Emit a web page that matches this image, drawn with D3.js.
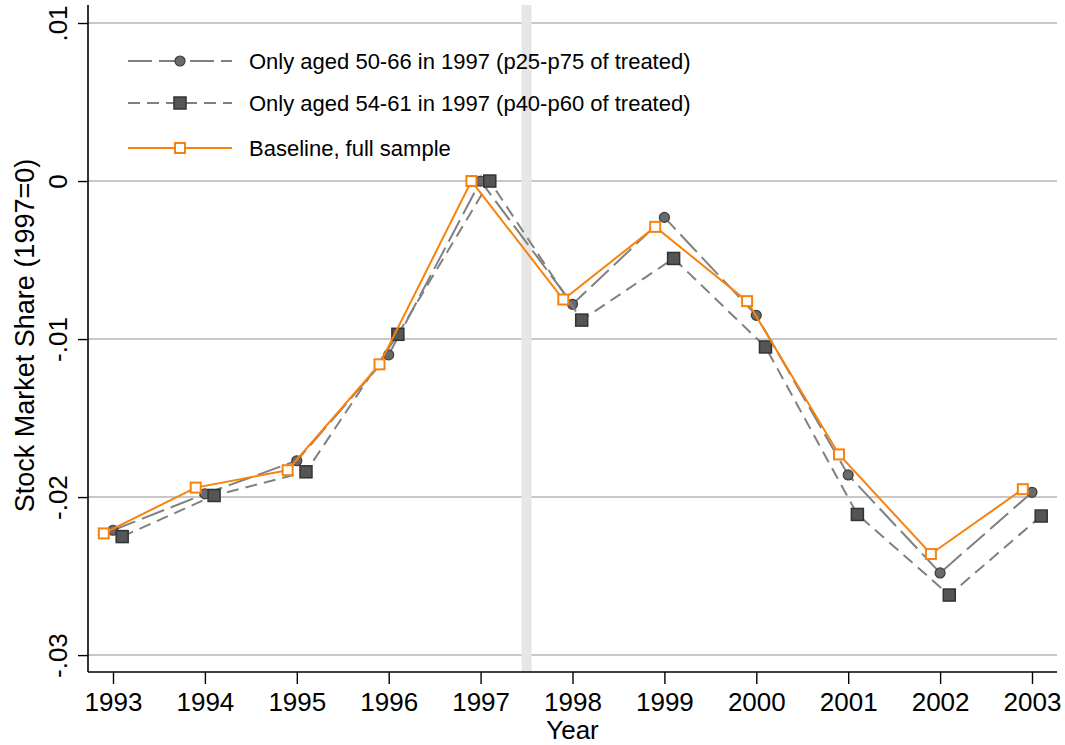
<!DOCTYPE html>
<html><head><meta charset="utf-8">
<script src="https://cdn.jsdelivr.net/npm/d3@7"></script>
<style>body{margin:0;background:#fff}svg{display:block;font-family:"Liberation Sans",Arial,sans-serif}</style>
</head><body><svg id="c" width="1065" height="745"></svg>
<script>
const years = [1993,1994,1995,1996,1997,1998,1999,2000,2001,2002,2003];
const aged5066 = [-0.0221,-0.0198,-0.0177,-0.0110,0,-0.0078,-0.0023,-0.0085,-0.0186,-0.0248,-0.0197];
const aged5461 = [-0.0225,-0.0199,-0.0184,-0.0097,0,-0.0088,-0.0049,-0.0105,-0.0211,-0.0262,-0.0212];
const baseline = [-0.0223,-0.0194,-0.0183,-0.0116,0,-0.0075,-0.0029,-0.0076,-0.0173,-0.0236,-0.0195];
const yTicks = [0.01,0,-0.01,-0.02,-0.03];
const yTickLabels = [".01","0","-.01","-.02","-.03"];
const legendLabels = ["Only aged 50-66 in 1997 (p25-p75 of treated)","Only aged 54-61 in 1997 (p40-p60 of treated)","Baseline, full sample"];
const xOffsets = [0, 0.1, -0.1];
const eventLine = 1997.5;

const svg = d3.select("#c");
const L=88,R=1057,T=5,B=672;
const x = d3.scaleLinear().domain([1992.728,2003.272]).range([L,R]);
const y = d3.scaleLinear().domain([-0.03107,0.01114]).range([B,T]);
const orange="#f7820e", gray="#808080";

// gridlines
svg.append("g").selectAll("line").data(yTicks).join("line")
  .attr("x1",L).attr("x2",R).attr("y1",d=>y(d)).attr("y2",d=>y(d))
  .attr("stroke","#c8c8c8").attr("stroke-width",2);
// event band
svg.append("line").attr("x1",x(eventLine)).attr("x2",x(eventLine)).attr("y1",T).attr("y2",B)
  .attr("stroke","#e6e6e6").attr("stroke-width",10);

// axes
const yAxis = d3.axisLeft(y).tickValues(yTicks).tickFormat((d,i)=>yTickLabels[i]).tickSize(10).tickSizeOuter(0);
const gy = svg.append("g").attr("transform",`translate(${L},0)`).call(yAxis);
gy.select(".domain").attr("stroke","#000").attr("stroke-width",1.6).attr("d",`M0,${T}V${B}`);
gy.selectAll(".tick line").attr("stroke","#000").attr("stroke-width",1.4);
gy.selectAll(".tick text").attr("font-size",26).attr("fill","#000")
  .attr("x",null).attr("dy",null).attr("y",0).attr("text-anchor","middle")
  .attr("transform","translate(-21,0) rotate(-90)");

const xAxis = d3.axisBottom(x).tickValues(years).tickFormat(d3.format("d")).tickSize(12).tickSizeOuter(0);
const gx = svg.append("g").attr("transform",`translate(0,${B})`).call(xAxis);
gx.select(".domain").attr("stroke","#000").attr("stroke-width",1.6).attr("d",`M${L},0H${R}`);
gx.selectAll(".tick line").attr("stroke","#000").attr("stroke-width",1.4);
gx.selectAll(".tick text").attr("font-size",26).attr("fill","#000").attr("y",39).attr("dy",null);

svg.append("text").attr("x",(L+R)/2).attr("y",739).attr("text-anchor","middle").attr("font-size",26).text("Year");
svg.append("text").attr("transform",`translate(34,${(T+B)/2-3}) rotate(-90)`).attr("text-anchor","middle")
  .attr("font-size",27).text("Stock Market Share (1997=0)");

// series
const series = [
  {vals:aged5066, off:xOffsets[0], stroke:gray, dash:"24,7", marker:"circle"},
  {vals:aged5461, off:xOffsets[1], stroke:gray, dash:"12,7", marker:"square"},
  {vals:baseline, off:xOffsets[2], stroke:orange, dash:null, marker:"hollow"}
];
const line = d3.line();
function drawMarker(g,type,cx,cy){
  if(type==="circle") g.append("circle").attr("cx",cx).attr("cy",cy).attr("r",5).attr("fill","#6a6a6a").attr("stroke","#3c3c3c").attr("stroke-width",1.2);
  else if(type==="square") g.append("rect").attr("x",cx-6).attr("y",cy-6).attr("width",12).attr("height",12).attr("fill","#555").attr("stroke","#333").attr("stroke-width",1.5);
  else g.append("rect").attr("x",cx-5).attr("y",cy-5).attr("width",10).attr("height",10).attr("fill","#fff").attr("stroke",orange).attr("stroke-width",2);
}
series.forEach(s=>{
  const pts = years.map((yr,i)=>[x(yr+s.off), y(s.vals[i])]);
  svg.append("path").attr("d",line(pts)).attr("fill","none").attr("stroke",s.stroke)
    .attr("stroke-width",2).attr("stroke-dasharray",s.dash);
  const g=svg.append("g");
  pts.forEach(p=>drawMarker(g,s.marker,p[0],p[1]));
});

// legend
const legY=[61,103,148];
series.forEach((s,i)=>{
  svg.append("line").attr("x1",128).attr("x2",232).attr("y1",legY[i]).attr("y2",legY[i])
    .attr("stroke",s.stroke).attr("stroke-width",2).attr("stroke-dasharray",s.dash);
  drawMarker(svg.append("g"),s.marker,180,legY[i]);
  svg.append("text").attr("x",249).attr("y",legY[i]).attr("dominant-baseline","central")
    .attr("font-size",22).attr("fill","#000").text(legendLabels[i]);
});
</script></body></html>
